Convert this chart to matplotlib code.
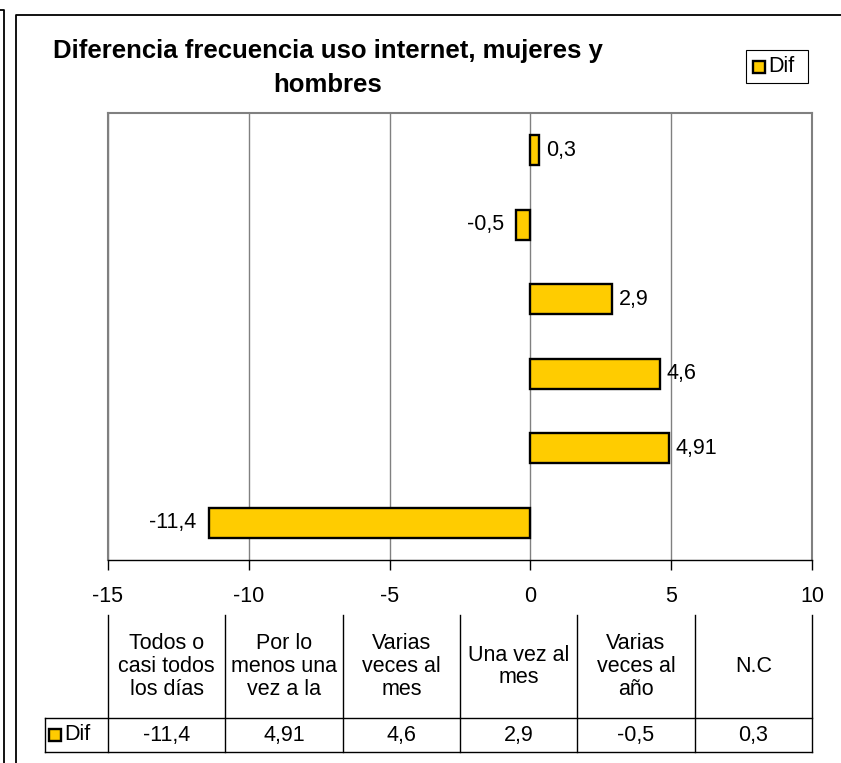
import matplotlib
matplotlib.use("Agg")
import matplotlib.pyplot as plt
from matplotlib.lines import Line2D
from matplotlib.patches import Rectangle

plt.rcParams['font.family'] = ['Liberation Sans', 'DejaVu Sans']

# Data (bottom to top in the chart, left to right in the table)
categories = ["Todos o\ncasi todos\nlos días",
              "Por lo\nmenos una\nvez a la",
              "Varias\nveces al\nmes",
              "Una vez al\nmes",
              "Varias\nveces al\naño",
              "N.C"]
dif = [-11.4, 4.91, 4.6, 2.9, -0.5, 0.3]
dif_labels = ["-11,4", "4,91", "4,6", "2,9", "-0,5", "0,3"]
x_ticks = [-15, -10, -5, 0, 5, 10]
series_name = "Dif"
title = "Diferencia frecuencia uso internet, mujeres y\nhombres"

W, H = 841, 763
BAR = "#FFCC00"
GRID = "#808080"
FS = 15.5

fig = plt.figure(figsize=(W / 100, H / 100), dpi=100)


def fx(px):
    return px / W


def fy(py):
    return 1 - py / H


# outer frames
fig.add_artist(Line2D([fx(0), fx(3.5), fx(3.5)], [fy(10), fy(10), fy(763)],
                      color="black", lw=1.3))
fig.add_artist(Line2D([fx(16), fx(16), fx(841)], [fy(763), fy(15), fy(15)],
                      color="black", lw=1.3))

# plot area
left, right, top, bottom = 108, 812, 113, 560
ax = fig.add_axes([fx(left), fy(bottom), fx(right - left), (bottom - top) / H])

ypos = list(range(len(dif)))
ax.barh(ypos, dif, height=0.4, color=BAR, edgecolor="black", linewidth=1.7, zorder=3)

for y, v, lab in zip(ypos, dif, dif_labels):
    if v >= 0:
        ax.text(v + 0.25, y, lab, ha="left", va="center", fontsize=FS)
    else:
        ax.text(v - 0.45, y, lab, ha="right", va="center", fontsize=FS)

ax.set_xlim(x_ticks[0], x_ticks[-1])
ax.set_ylim(-0.5, len(dif) - 0.5)
ax.set_xticks(x_ticks)
ax.set_xticklabels([str(t) for t in x_ticks], fontsize=FS)
ax.set_yticks([])
ax.tick_params(axis="x", direction="out", length=7, width=1, pad=12)
ax.grid(axis="x", color=GRID, lw=1, zorder=0)
for s in ["left", "top", "right"]:
    ax.spines[s].set_color(GRID)
    ax.spines[s].set_linewidth(1.5)
ax.spines["bottom"].set_color("black")
ax.spines["bottom"].set_linewidth(1)

# title
fig.text(fx(328), fy(68), title, ha="center", va="center", fontsize=18.5,
         fontweight="bold", linespacing=1.5)

# legend
fig.add_artist(Rectangle((fx(746), fy(83)), fx(62), 33 / H, fill=False,
                         edgecolor="black", lw=0.8))
fig.add_artist(Rectangle((fx(753), fy(73)), fx(12), 12 / H, facecolor=BAR,
                         edgecolor="black", lw=1.7))
fig.text(fx(768), fy(66), series_name, ha="left", va="center", fontsize=FS)

# data table
col_w = (right - left) / len(categories)
t_top, t_mid, t_bot = 615, 718, 752
lw_t = 1.0
for i in range(len(categories) + 1):
    x = left + i * col_w
    fig.add_artist(Line2D([fx(x), fx(x)], [fy(t_top), fy(t_bot)], color="black", lw=lw_t))
fig.add_artist(Line2D([fx(45), fx(right)], [fy(t_mid), fy(t_mid)], color="black", lw=lw_t))
fig.add_artist(Line2D([fx(45), fx(right)], [fy(t_bot), fy(t_bot)], color="black", lw=lw_t))
fig.add_artist(Line2D([fx(45), fx(45)], [fy(t_mid), fy(t_bot)], color="black", lw=lw_t))

for i, (cat, lab) in enumerate(zip(categories, dif_labels)):
    cx = left + (i + 0.5) * col_w
    fig.text(fx(cx), fy((t_top + t_mid) / 2), cat, ha="center", va="center",
             fontsize=FS, linespacing=1.12)
    fig.text(fx(cx), fy((t_mid + t_bot) / 2), lab, ha="center", va="center",
             fontsize=FS)

fig.add_artist(Rectangle((fx(49), fy(741)), fx(12), 12 / H, facecolor=BAR,
                         edgecolor="black", lw=1.7))
fig.text(fx(64), fy(735), series_name, ha="left", va="center", fontsize=FS)

fig.savefig("out.png", dpi=100)
